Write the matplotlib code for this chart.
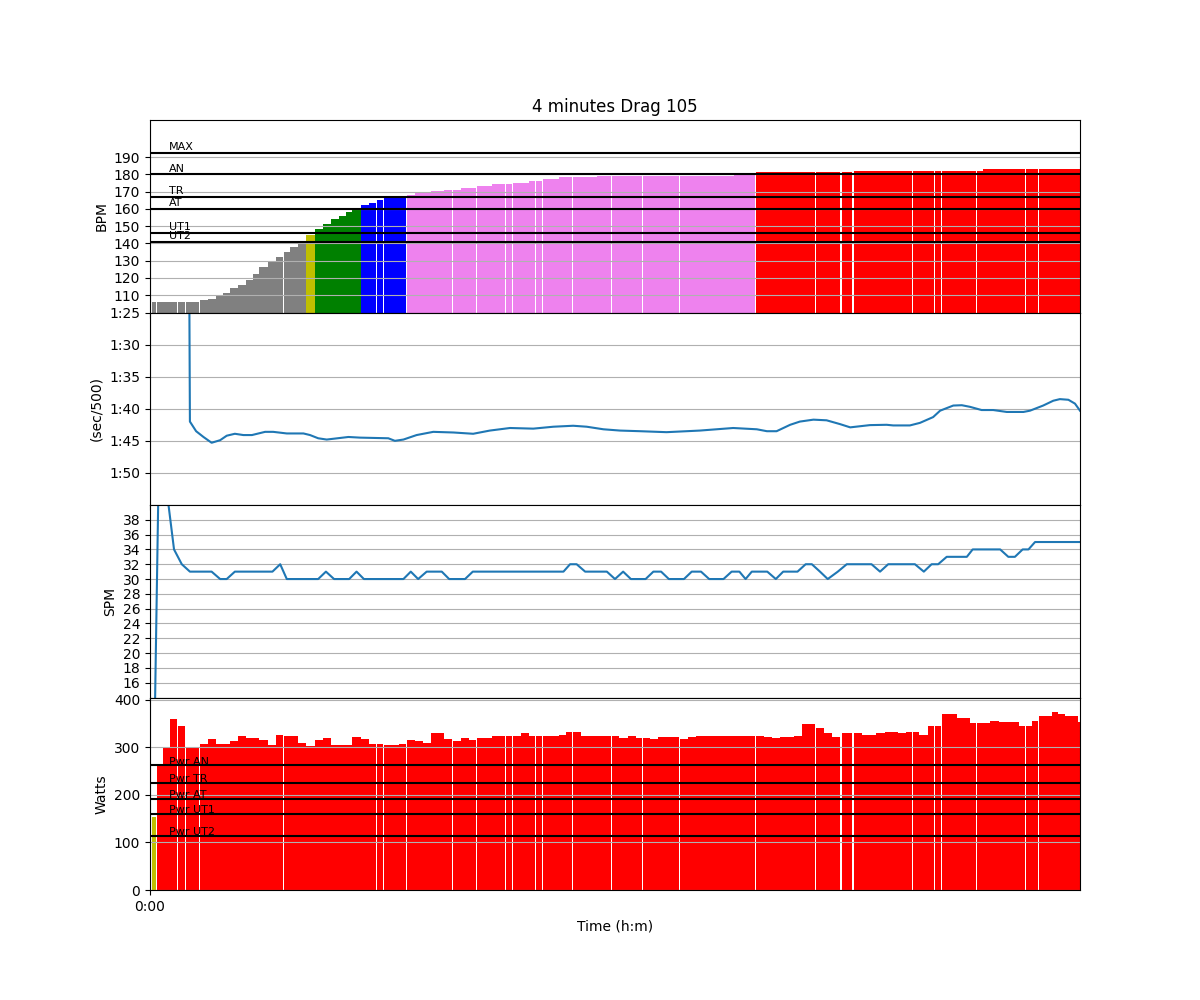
import numpy as np
import matplotlib
matplotlib.use("Agg")
import matplotlib.pyplot as plt
from matplotlib.ticker import FuncFormatter

# ---------------- data ----------------
title = "4 minutes Drag 105"

# stroke start times (s)
stroke_t = [0.4, 1.7, 3.3, 5.2, 7.1, 9.2, 10.9, 12.8, 15.0, 17.0,
            18.8, 20.6, 22.7, 24.9, 26.7, 28.2, 30.5, 32.5, 34.5, 36.1,
            38.2, 40.3, 42.6, 44.6, 46.7, 48.8, 50.6, 52.2, 54.4, 56.5,
            58.5, 60.3, 62.2, 64.2, 66.2, 68.4, 70.5, 72.5, 74.1, 75.9,
            78.1, 80.2, 82.3, 84.3, 85.9, 88.3, 90.1, 91.8, 93.6, 95.7,
            97.8, 99.5, 101.3, 103.5, 105.5, 107.4, 109.1, 111.2, 113.3, 115.3,
            117.2, 119.1, 121.0, 123.3, 125.4, 127.1, 129.0, 131.2, 133.9, 136.7,
            138.8, 141.0, 143.0, 145.1, 146.9, 148.6, 150.8, 152.6, 154.4, 156.3,
            158.5, 160.5, 162.6, 164.4, 166.2, 168.3, 170.1, 171.8, 173.9, 176.0,
            178.1, 178.6, 181.2, 181.7, 183.7, 185.5, 187.4, 189.7, 191.3, 193.0,
            195.1, 196.8, 198.5, 200.8, 202.5, 204.3, 206.2, 208.2, 209.9, 211.6,
            213.3, 215.0, 216.9, 219.1, 220.5, 222.3, 224.2, 226.0, 227.7, 229.3,
            231.2, 232.9, 234.4, 236.1, 237.9, 239.6]

hr = [106, 106, 106, 106, 106, 106, 106, 107.2, 107.8, 109.7,
      111.3, 114.2, 116.1, 118.8, 122.3, 126.6, 129.5, 132.4, 135.1, 138.0,
      140.0, 144.9, 148.4, 151.3, 154.2, 156.0, 158.3, 159.8, 162.1, 163.5,
      165.2, 166.6, 166.6, 166.6, 167.9, 169.3, 169.3, 170.3, 170.3, 171.0,
      171.0, 172.2, 172.2, 173.4, 173.4, 174.5, 174.5, 174.5, 175.1, 175.1,
      176.3, 176.3, 177.4, 177.4, 178.6, 178.6, 178.6, 178.6, 178.6, 179.2,
      179.2, 179.2, 179.2, 179.2, 179.2, 179.2, 179.2, 179.2, 179.2, 179.2,
      179.2, 179.2, 179.2, 179.2, 179.2, 179.2, 179.7, 179.7, 179.7, 181.5,
      181.5, 181.5, 181.5, 181.5, 181.5, 181.5, 181.5, 181.5, 181.5, 181.5,
      0, 181.5, 0, 182.1, 182.1, 182.1, 182.1, 182.1, 182.1, 182.1,
      182.1, 182.1, 182.1, 182.1, 182.1, 182.1, 182.1, 182.1, 182.1, 182.1,
      182.1, 183.2, 183.2, 183.2, 183.2, 183.2, 183.2, 183.2, 183.2, 183.2,
      183.2, 183.2, 183.2, 183.2, 183.2, 183.2]

power = [154, 263, 301, 359, 346, 299, 299, 308, 317, 308,
         308, 313, 323, 320, 320, 315, 306, 327, 325, 325,
         310, 304, 315, 320, 306, 306, 306, 321, 317, 308,
         308, 306, 306, 308, 315, 313, 310, 330, 330, 317,
         313, 319, 315, 319, 319, 325, 325, 323, 323, 330,
         323, 325, 325, 325, 327, 332, 332, 325, 323, 323,
         323, 323, 319, 323, 319, 319, 317, 321, 321, 317,
         321, 323, 325, 323, 323, 323, 325, 325, 325, 325,
         321, 319, 321, 321, 325, 349, 349, 340, 330, 321,
         0, 330, 0, 330, 327, 327, 330, 332, 332, 330,
         332, 332, 327, 345, 345, 370, 370, 361, 361, 351,
         351, 351, 355, 353, 353, 353, 345, 345, 355, 366,
         366, 374, 370, 366, 366, 353]

# pace line (s per 500 m)
pace_t = [0.4, 9.9, 10.3, 11.9, 13.8, 15.9, 18.1, 19.8, 21.9, 24.1,
          26.3, 29.7, 31.8, 35.3, 39.6, 41.3, 43.4, 45.6, 51.2, 54.2,
          61.5, 63.2, 65.4, 68.8, 73.1, 78.3, 83.4, 87.7, 92.9, 98.9,
          104.1, 109.2, 112.7, 117.0, 121.3, 126.5, 133.3, 141.9, 150.5, 156.6,
          159.2, 161.7, 165.2, 167.7, 171.2, 174.6, 178.1, 180.7, 185.8, 190.1,
          191.8, 196.1, 198.7, 202.1, 203.9, 207.3, 209.5, 211.6, 214.6, 217.6,
          221.1, 225.4, 227.1, 230.5, 233.1, 234.8, 237.0, 238.7, 240.0]
pace = [50, 50, 102.0, 103.5, 104.4, 105.3, 104.9, 104.2, 103.9, 104.1,
        104.1, 103.6, 103.6, 103.85, 103.85, 104.1, 104.6, 104.8, 104.4, 104.5,
        104.6, 105.0, 104.8, 104.1, 103.6, 103.7, 103.9, 103.4, 103.0, 103.1,
        102.8, 102.65, 102.8, 103.2, 103.4, 103.5, 103.65, 103.4, 103.0, 103.2,
        103.5, 103.5, 102.5, 102.0, 101.7, 101.8, 102.4, 102.9, 102.55, 102.5,
        102.6, 102.6, 102.2, 101.3, 100.3, 99.5, 99.45, 99.7, 100.2, 100.2,
        100.5, 100.5, 100.3, 99.5, 98.75, 98.5, 98.6, 99.2, 100.3]

# stroke rate line
spm_t = [0.9, 2.8, 4.3, 6.2, 8.2, 10.3, 15.9, 18.1, 19.8, 21.9,
         31.6, 33.6, 35.3, 43.4, 45.4, 47.5, 51.4, 53.3, 55.2, 65.4,
         67.3, 69.2, 71.4, 75.3, 77.2, 81.3, 83.3, 106.7, 108.4, 110.1,
         112.3, 117.9, 120.0, 122.1, 124.1, 127.9, 129.9, 131.9, 133.9, 137.8,
         139.8, 142.2, 144.3, 148.0, 150.1, 152.1, 153.7, 155.3, 159.3, 161.5,
         163.4, 167.1, 169.2, 170.8, 172.9, 174.9, 177.5, 179.8, 186.2, 188.4,
         190.5, 197.4, 199.7, 201.7, 203.4, 205.6, 210.8, 212.3, 219.4, 221.5,
         223.2, 225.2, 226.7, 228.4, 240.0]
spm = [0, 63, 42, 34, 32, 31, 31, 30, 30, 31,
       31, 32, 30, 30, 31, 30, 30, 31, 30, 30,
       31, 30, 31, 31, 30, 30, 31, 31, 32, 32,
       31, 31, 30, 31, 30, 30, 31, 31, 30, 30,
       31, 31, 30, 30, 31, 31, 30, 31, 31, 30,
       31, 31, 32, 32, 31, 30, 31, 32, 32, 31,
       32, 32, 31, 32, 32, 33, 33, 34, 34, 33,
       33, 34, 34, 35, 35]

# heart-rate zones
hr_zone_names = ["UT2", "UT1", "AT", "TR", "AN", "MAX"]
hr_zone_vals = [141, 146, 160, 167, 180, 192.5]
# power zones
pw_zone_names = ["Pwr UT2", "Pwr UT1", "Pwr AT", "Pwr TR", "Pwr AN"]
pw_zone_vals = [114, 160.5, 192, 226, 262]

zone_colors = ["gray", "y", "green", "blue", "violet", "red"]

# ---------------- helpers ----------------
def colorize(values, limits):
    cols = []
    for v in values:
        idx = 0
        for lim in limits:
            if v >= lim:
                idx += 1
        cols.append(zone_colors[min(idx, 5)])
    return cols

t = np.array(stroke_t)
widths = np.append(np.diff(t), t[-1] - t[-2]) - 0.07

fig, axes = plt.subplots(4, 1, sharex=True, figsize=(12, 10), dpi=100,
                         gridspec_kw=dict(hspace=0))
ax1, ax2, ax3, ax4 = axes

# HR
ax1.bar(t, hr, width=widths, align="edge",
        color=colorize(hr, hr_zone_vals[:5]), linewidth=0)
for name, val in zip(hr_zone_names, hr_zone_vals):
    ax1.axhline(val, color="k", linewidth=1.5)
    ax1.text(5, val + 1.5, name, size=8)
ax1.set_ylim(100, 211.5)
ax1.set_yticks(range(110, 200, 10))
ax1.set_ylabel("BPM")
ax1.set_title(title)
ax1.grid(True)

# pace
ax2.plot(pace_t, pace, color="C0", linewidth=1.5)
ax2.set_ylim(115, 85)
ax2.set_yticks(range(85, 115, 5))
ax2.yaxis.set_major_formatter(
    FuncFormatter(lambda v, p: "%d:%02d" % (int(v) // 60, int(round(v)) % 60)))
ax2.set_ylabel("(sec/500)")
ax2.grid(True)

# SPM
ax3.plot(spm_t, spm, color="C0", linewidth=1.5)
ax3.set_ylim(14, 40)
ax3.set_yticks(range(16, 40, 2))
ax3.set_ylabel("SPM")
ax3.grid(True)

# power
ax4.bar(t, power, width=widths, align="edge",
        color=colorize(power, pw_zone_vals), linewidth=0)
for name, val in zip(pw_zone_names, pw_zone_vals):
    ax4.axhline(val, color="k", linewidth=1.5)
    ax4.text(5, val + 1.5, name, size=8)
ax4.set_ylim(0, 405)
ax4.set_yticks(range(0, 401, 100))
ax4.set_ylabel("Watts")
ax4.grid(True)

ax4.set_xlim(0, 240)
ax4.set_xticks([0])
ax4.set_xticklabels(["0:00"])
ax4.set_xlabel("Time (h:m)")

fig.savefig("out.png", dpi=100)
